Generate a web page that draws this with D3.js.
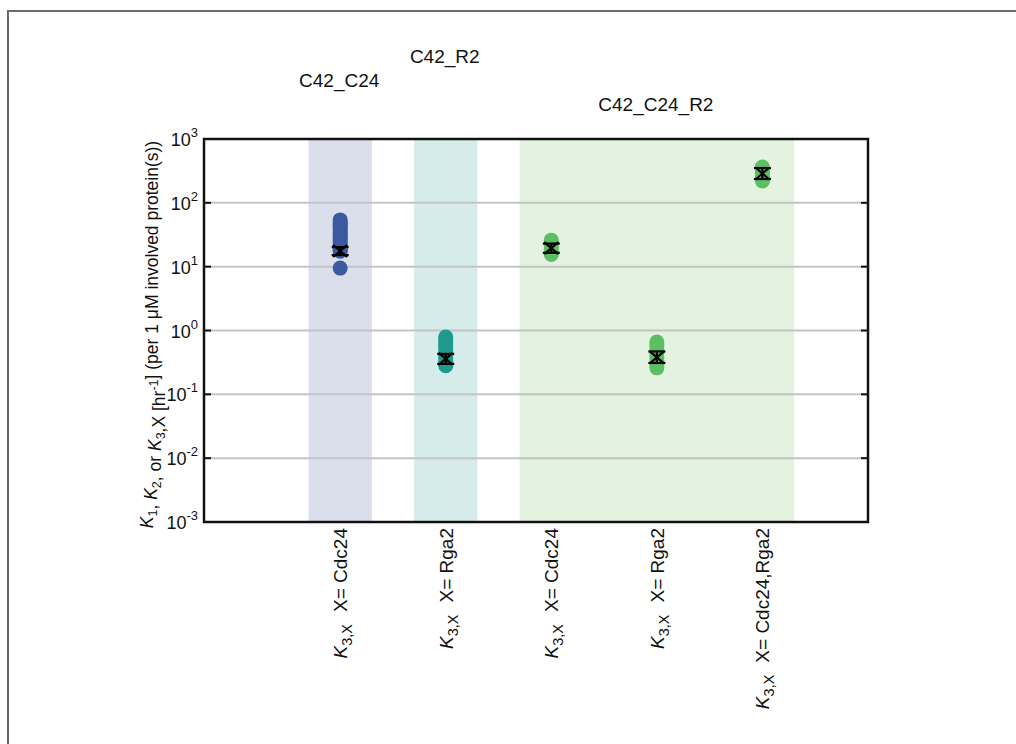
<!DOCTYPE html>
<meta charset="utf-8">
<html>
<head>
<title>K3,X rates</title>
<script src="https://d3js.org/d3.v7.min.js"></script>
<style>
body { margin: 0; background: #fff; }
svg text { font-family: "Liberation Sans", Arial, Helvetica, sans-serif; fill: #111; }
</style>
</head>
<body>
<svg id="chart" width="1016" height="744"></svg>
<script>
// data
var categories = ["Cdc24", "Rga2", "Cdc24", "Rga2", "Cdc24,Rga2"];
var groups = [
  {name: "C42_C24", from: 1, to: 1, labelAt: 1, row: 1},
  {name: "C42_R2", from: 2, to: 2, labelAt: 2, row: 0},
  {name: "C42_C24_R2", from: 3, to: 5, labelAt: 4, row: 2}
];
var samples = [
  [54, 50, 47, 44, 41, 38, 35, 33, 31, 29, 27, 25, 23, 21, 20, 19, 18, 17.5, 9.5],
  [0.79, 0.72, 0.65, 0.58, 0.52, 0.46, 0.41, 0.37, 0.33, 0.30, 0.28],
  [26, 23.5, 21, 19, 17, 15.5],
  [0.66, 0.58, 0.50, 0.44, 0.38, 0.33, 0.29, 0.26],
  [364, 330, 300, 270, 245, 220]
];
var means = [17.6, 0.36, 19.5, 0.38, 288];
var errLo = [15.2, 0.30, 16.5, 0.31, 236];
var errHi = [20.3, 0.43, 23.0, 0.47, 351];
var yTicks = [-3, -2, -1, 0, 1, 2, 3];

// styles
var dotColors = ["#3b5aa0", "#1e9a8e", "#5cbf63", "#5cbf63", "#5cbf63"];
var bandColors = ["#dbdfec", "#d5ecea", "#e3f3df"];

var svg = d3.select("#chart");
var pLeft = 204, pRight = 868, pTop = 139, pBottom = 522;

var x = d3.scaleLinear().domain([-0.29, 6.0]).range([pLeft, pRight]);
var y = d3.scaleLog().domain([1e-3, 1e3]).range([pBottom, pTop]);

// outer frame
svg.append("path")
  .attr("d", "M8,744 V11 H1016")
  .attr("fill", "none").attr("stroke", "#6a6a6a").attr("stroke-width", 2);

// shaded groups
svg.selectAll("rect.band").data(groups).enter().append("rect")
  .attr("x", function (d) { return x(d.from - 0.3); })
  .attr("width", function (d) { return x(d.to + 0.3) - x(d.from - 0.3); })
  .attr("y", pTop).attr("height", pBottom - pTop)
  .attr("fill", function (d, i) { return bandColors[i]; });

// grid
svg.selectAll("line.grid").data(yTicks.slice(1, -1)).enter().append("line")
  .attr("x1", pLeft).attr("x2", pRight)
  .attr("y1", function (d) { return y(Math.pow(10, d)); })
  .attr("y2", function (d) { return y(Math.pow(10, d)); })
  .attr("stroke", "#c4c4c4").attr("stroke-width", 2);

// ticks (inside, both sides)
yTicks.forEach(function (d) {
  var yy = y(Math.pow(10, d));
  svg.append("line").attr("x1", pLeft).attr("x2", pLeft + 7).attr("y1", yy).attr("y2", yy)
    .attr("stroke", "#111").attr("stroke-width", 2);
  svg.append("line").attr("x1", pRight - 7).attr("x2", pRight).attr("y1", yy).attr("y2", yy)
    .attr("stroke", "#111").attr("stroke-width", 2);
});

// dots
samples.forEach(function (vals, i) {
  svg.selectAll(null).data(vals).enter().append("circle")
    .attr("cx", x(i + 1))
    .attr("cy", function (d) { return y(d); })
    .attr("r", 7.5)
    .attr("fill", dotColors[i]);
});

// mean with error bars
means.forEach(function (m, i) {
  var cx = x(i + 1), g = svg.append("g").attr("stroke", "#000").attr("stroke-width", 2.2);
  var lo = y(errLo[i]), hi = y(errHi[i]), my = y(m);
  g.append("line").attr("x1", cx).attr("x2", cx).attr("y1", lo).attr("y2", hi);
  g.append("line").attr("x1", cx - 8.5).attr("x2", cx + 8.5).attr("y1", lo).attr("y2", lo);
  g.append("line").attr("x1", cx - 8.5).attr("x2", cx + 8.5).attr("y1", hi).attr("y2", hi);
  g.append("line").attr("x1", cx - 7).attr("x2", cx + 7).attr("y1", my - 6).attr("y2", my + 6);
  g.append("line").attr("x1", cx - 7).attr("x2", cx + 7).attr("y1", my + 6).attr("y2", my - 6);
});

// axes box
svg.append("rect").attr("x", pLeft).attr("y", pTop)
  .attr("width", pRight - pLeft).attr("height", pBottom - pTop)
  .attr("fill", "none").attr("stroke", "#111").attr("stroke-width", 2.5);

// y tick labels
yTicks.forEach(function (d) {
  var t = svg.append("text").attr("x", pLeft - 6).attr("y", y(Math.pow(10, d)) + 7)
    .attr("text-anchor", "end").style("font-size", "18px");
  t.append("tspan").text("10");
  t.append("tspan").attr("dy", -9).style("font-size", "13px").text(d);
});

// y axis title
var yl = svg.append("text")
  .attr("transform", "translate(153," + ((pTop + pBottom) / 2 + 4) + ") rotate(-90)")
  .attr("text-anchor", "middle").style("font-size", "17.5px");
function sub(t, s, shift) {
  t.append("tspan").attr("dy", shift).style("font-size", "12.5px").text(s);
  t.append("tspan").attr("dy", -shift).text("");
}
yl.append("tspan").style("font-style", "italic").text("K");
sub(yl, "1", 4);
yl.append("tspan").text(", ");
yl.append("tspan").style("font-style", "italic").text("K");
sub(yl, "2", 4);
yl.append("tspan").text(", or ");
yl.append("tspan").style("font-style", "italic").text("K");
sub(yl, "3", 4);
yl.append("tspan").text(",X [hr");
sub(yl, "-1", -7);
yl.append("tspan").text("] (per 1 \u03bcM involved protein(s))");

// category labels
categories.forEach(function (c, i) {
  var t = svg.append("text")
    .attr("transform", "translate(" + (x(i + 1) + 7) + "," + (pBottom + 6) + ") rotate(-90)")
    .attr("text-anchor", "end").style("font-size", "19px");
  t.append("tspan").style("font-style", "italic").text("K");
  t.append("tspan").attr("dy", 5).style("font-size", "14.5px").text("3,X");
  t.append("tspan").attr("dy", -5).attr("dx", 12).text("X= " + c);
});

// group labels
var rowY = [63, 87, 111];
groups.forEach(function (g) {
  svg.append("text").attr("x", x(g.labelAt) - 1).attr("y", rowY[g.row])
    .attr("text-anchor", "middle").style("font-size", "19px").text(g.name);
});
</script>
</body>
</html>
